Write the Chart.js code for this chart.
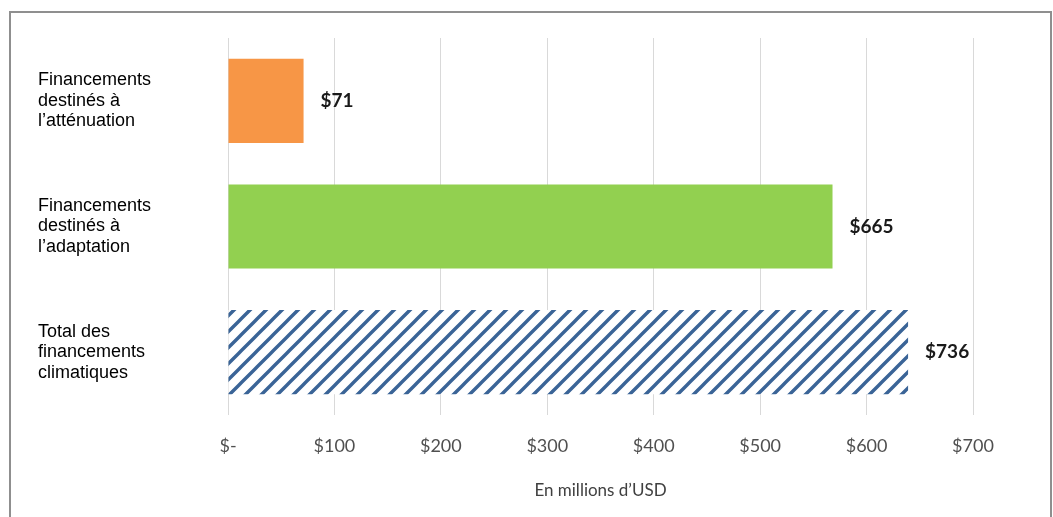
<!DOCTYPE html>
<html>
<head>
<meta charset="utf-8">
<script src="https://cdn.jsdelivr.net/npm/chart.js@4"></script>
<style>
  body { margin: 0; background: #fff; }
  #frame { position: absolute; left: 9px; top: 11px; width: 1043px; height: 520px; border: 2px solid #8f8f8f; box-sizing: border-box; }
  #c { position: absolute; left: 0; top: 0; }
</style>
</head>
<body>
<div id="frame"></div>
<canvas id="c" width="1053" height="517"></canvas>
<script>
// categories (multi-line)
var categories = [
  ["Financements", "destinés à", "l\u2019atténuation"],
  ["Financements", "destinés à", "l\u2019adaptation"],
  ["Total des", "financements", "climatiques"]
];
// bar lengths as drawn in the picture (millions USD)
var barValues = [71, 568, 639];
// labels printed next to the bars
var valueLabels = ["$71", "$665", "$736"];
// x axis tick labels
var tickLabels = ["$-", "$100", "$200", "$300", "$400", "$500", "$600", "$700"];

// diagonal hatch for the total bar
function makeHatch(color) {
  var p = document.createElement("canvas");
  p.width = 16; p.height = 16;
  var g = p.getContext("2d");
  g.fillStyle = "#fff";
  g.fillRect(0, 0, 16, 16);
  g.strokeStyle = color;
  g.lineWidth = 3.4;
  g.beginPath();
  g.moveTo(-4, 4); g.lineTo(4, -4);
  g.moveTo(0, 16); g.lineTo(16, 0);
  g.moveTo(12, 20); g.lineTo(20, 12);
  g.stroke();
  return g.createPattern(p, "repeat");
}

var ctx = document.getElementById("c").getContext("2d");
var hatch = makeHatch("#3a6497");

var valueLabelPlugin = {
  id: "valueLabels",
  afterDatasetsDraw: function (chart) {
    var c = chart.ctx;
    var meta = chart.getDatasetMeta(0);
    c.save();
    c.font = "bold 19px Lato";
    c.fillStyle = "#1a1a1a";
    c.textAlign = "left";
    c.textBaseline = "middle";
    meta.data.forEach(function (bar, i) {
      c.fillText(valueLabels[i], bar.x + 17, bar.y);
    });
    c.restore();
  }
};

var myBar = new Chart(ctx, {
  type: "bar",
  data: {
    labels: categories,
    datasets: [{
      data: barValues,
      backgroundColor: ["#f79646", "#92d050", hatch],
      borderWidth: 0,
      barPercentage: 0.67,
      categoryPercentage: 1
    }]
  },
  options: {
    indexAxis: "y",
    responsive: false,
    animation: false,
    layout: { padding: { left: 38, top: 38, right: 80, bottom: 0 } },
    plugins: {
      legend: { display: false },
      tooltip: { enabled: false }
    },
    scales: {
      x: {
        min: 0,
        max: 700,
        ticks: {
          stepSize: 100,
          padding: 20,
          color: "#505050",
          font: { family: "Lato", size: 18 },
          callback: function (v, i) { return tickLabels[i]; }
        },
        grid: { color: "#d9d9d9", lineWidth: 1, drawTicks: false },
        border: { display: false },
        title: {
          display: true,
          text: "En millions d\u2019USD",
          color: "#404040",
          font: { family: "Lato", size: 17 },
          padding: { top: 18, bottom: 16 }
        },
        afterFit: function (s) { s.height = 102; }
      },
      y: {
        ticks: {
          crossAlign: "far",
          color: "#000",
          font: { family: "Liberation Sans", size: 18, lineHeight: 1.14 }
        },
        grid: { display: false },
        border: { display: false },
        afterFit: function (s) { s.width = 190; }
      }
    }
  },
  plugins: [valueLabelPlugin]
});
</script>
</body>
</html>
